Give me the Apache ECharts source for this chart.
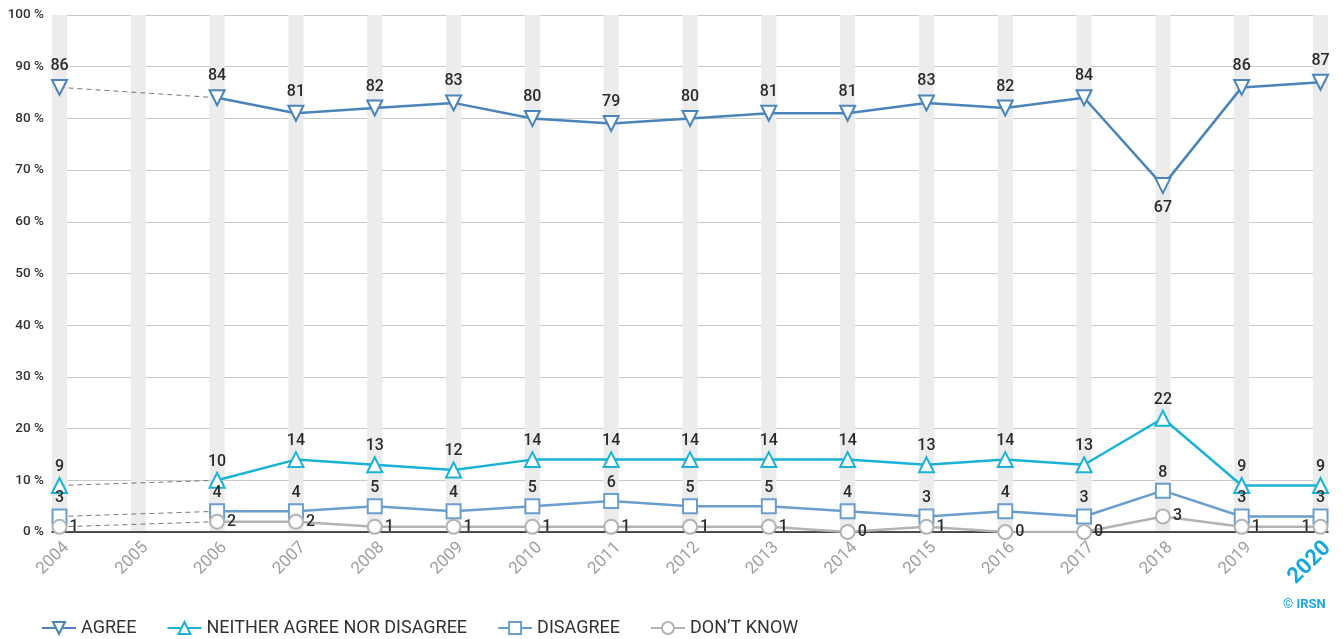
<!DOCTYPE html>
<html>
<head>
<meta charset="utf-8">
<script src="https://cdn.jsdelivr.net/npm/echarts@6/dist/echarts.min.js"></script>
<style>
  html, body { margin: 0; padding: 0; background: #fff; }
  #chart { width: 1343px; height: 639px; }
  #credit { position: absolute; left: 1283px; top: 596px; font: bold 13px Roboto, sans-serif; color: #1aa7dc; }
</style>
</head>
<body>
<div id="chart"></div>
<div id="credit">© IRSN</div>
<script>
// Survey years (2005 has no survey, kept as a gap)
const years = [2004, 2005, 2006, 2007, 2008, 2009, 2010, 2011, 2012, 2013, 2014, 2015, 2016, 2017, 2018, 2019, 2020];
const yTicks = [0, 10, 20, 30, 40, 50, 60, 70, 80, 90, 100];

const agree     = [86, null, 84, 81, 82, 83, 80, 79, 80, 81, 81, 83, 82, 84, 67, 86, 87];
const neither   = [9, null, 10, 14, 13, 12, 14, 14, 14, 14, 14, 13, 14, 13, 22, 9, 9];
const disagree  = [3, null, 4, 4, 5, 4, 5, 6, 5, 5, 4, 3, 4, 3, 8, 3, 3];
const dontKnow  = [1, null, 2, 2, 1, 1, 1, 1, 1, 1, 0, 1, 0, 0, 3, 1, 1];

const names = ['AGREE', 'NEITHER AGREE NOR DISAGREE', 'DISAGREE', 'DON\u2019T KNOW'];
const colors = ['#4a84bb', '#1ab3d6', '#6a9ecd', '#b3b3b3'];

const labelStyle = { show: true, fontFamily: 'Roboto', fontSize: 16, fontWeight: 500, color: '#2b2b2b' };

// x range padding around first/last year, and the small rightward hang of the rotated year labels
const X_PAD = 0.095;
const LABEL_NUDGE = 0.09;

function pairs(vals) {
  return years.map((y, i) => [y, vals[i]]);
}

// dashed connector bridging the missing 2005 survey
function bridge(vals) {
  return {
    type: 'line', silent: true, symbol: 'none', z: 1,
    data: [[years[0], vals[0]], [years[2], vals[2]]],
    lineStyle: { color: '#777', width: 1, type: [5, 4] }
  };
}

function mainSeries(idx, vals, symbol, rotate, size, labelPos, dist, overrides) {
  const data = pairs(vals).map((d, i) => {
    const o = overrides && overrides[i];
    return o ? { value: d, label: o } : d;
  });
  return {
    name: names[idx], type: 'line', data: data, z: 3,
    symbol: symbol, symbolSize: size, symbolRotate: rotate, showAllSymbol: true,
    connectNulls: false,
    lineStyle: { color: colors[idx], width: 2.5 },
    itemStyle: { color: colors[idx], borderWidth: 2 },
    label: Object.assign({}, labelStyle, { position: labelPos, distance: dist })
  };
}

const chart = echarts.init(document.getElementById('chart'));
chart.setOption({
  animation: false,
  grid: { left: 52, right: 15, top: 15, bottom: 107, containLabel: false },
  legend: {
    data: names, left: 36, top: 614,
    itemWidth: 34, itemHeight: 15, itemGap: 30,
    textStyle: { fontFamily: 'Roboto', fontSize: 18, color: '#333' }
  },
  xAxis: {
    type: 'value', min: years[0] - X_PAD, max: years[years.length - 1] + X_PAD,
    splitLine: { show: false },
    axisLine: { show: true, onZero: false, lineStyle: { color: '#1a1a1a', width: 1.5 } },
    axisTick: { show: false },
    axisLabel: {
      customValues: years.map(y => y + LABEL_NUDGE), rotate: 45, margin: 13,
      showMinLabel: true, showMaxLabel: true, hideOverlap: false,
      fontFamily: 'Roboto', fontSize: 17, color: '#a0a0a0',
      formatter: v => {
        const y = Math.round(v);
        return y === 2020 ? '{hl|' + y + '}' : String(y);
      },
      rich: { hl: { fontFamily: 'Roboto', fontSize: 22, fontWeight: 'bold', color: '#18a8de' } }
    }
  },
  yAxis: {
    type: 'value', min: 0, max: 100, interval: 10,
    axisLine: { show: false }, axisTick: { show: false },
    splitLine: { lineStyle: { color: '#c9c9c9', width: 1 } },
    axisLabel: {
      customValues: yTicks, margin: 8,
      fontFamily: 'Roboto', fontSize: 13.5, fontWeight: 500, color: '#333',
      formatter: '{value} %'
    }
  },
  series: [
    {
      type: 'custom', silent: true, z: 0,
      data: years.map(y => [y]),
      renderItem: (params, api) => {
        const lo = api.coord([api.value(0), 0]);
        const hi = api.coord([api.value(0), 100]);
        return { type: 'rect', shape: { x: lo[0] - 7.5, y: hi[1], width: 15, height: lo[1] - hi[1] }, style: { fill: '#ececec' } };
      }
    },
    bridge(agree), bridge(neither), bridge(disagree), bridge(dontKnow),
    mainSeries(0, agree, 'emptyTriangle', 180, 15, 'top', 5, { 14: { position: 'bottom', distance: 6 } }),
    mainSeries(1, neither, 'emptyTriangle', 0, 15, 'top', 2),
    mainSeries(2, disagree, 'emptyRect', 0, 14, 'top', 2),
    mainSeries(3, dontKnow, 'emptyCircle', 0, 14, 'right', 2, { 16: { position: 'left', distance: 2 } })
  ]
});
</script>
</body>
</html>
